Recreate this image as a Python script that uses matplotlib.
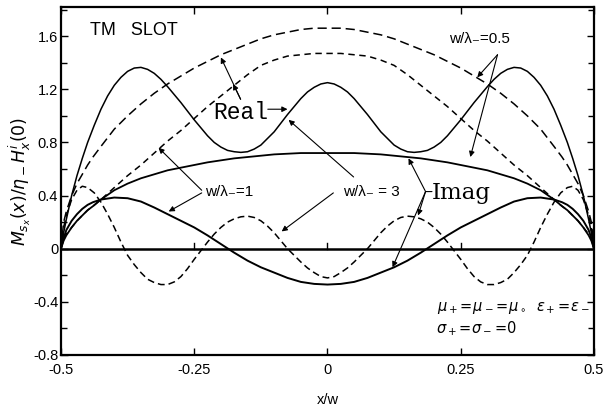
import matplotlib
matplotlib.use('Agg')
import matplotlib.pyplot as plt
from matplotlib.ticker import MultipleLocator

plt.rcParams['font.family'] = ['Liberation Sans', 'DejaVu Sans']
plt.rcParams['axes.unicode_minus'] = False

# sample points along the slot, x/w
x = [-0.5, -0.495, -0.49, -0.48, -0.47, -0.46, -0.45, -0.44, -0.425, -0.4,
     -0.375, -0.35, -0.325, -0.3, -0.275, -0.25, -0.225, -0.2, -0.175, -0.15,
     -0.125, -0.1, -0.075, -0.05, -0.025, 0, 0.025, 0.05, 0.075, 0.1,
     0.125, 0.15, 0.175, 0.2, 0.225, 0.25, 0.275, 0.3, 0.325, 0.35,
     0.375, 0.4, 0.425, 0.44, 0.45, 0.46, 0.47, 0.48, 0.49, 0.495, 0.5]

# finer sampling for the w/lambda = 3 curves
x3 = [-0.5, -0.495, -0.49, -0.48, -0.47, -0.46, -0.45,
      -0.4375, -0.425, -0.4125, -0.4, -0.3875, -0.375, -0.3625, -0.35, -0.3375, -0.325,
      -0.3125, -0.3, -0.2875, -0.275, -0.2625, -0.25, -0.2375, -0.225, -0.2125, -0.2,
      -0.1875, -0.175, -0.1625, -0.15, -0.1375, -0.125, -0.1125, -0.1, -0.0875, -0.075,
      -0.0625, -0.05, -0.0375, -0.025, -0.0125, 0,
      0.0125, 0.025, 0.0375, 0.05, 0.0625, 0.075, 0.0875, 0.1, 0.1125, 0.125,
      0.1375, 0.15, 0.1625, 0.175, 0.1875, 0.2, 0.2125, 0.225, 0.2375, 0.25,
      0.2625, 0.275, 0.2875, 0.3, 0.3125, 0.325, 0.3375, 0.35, 0.3625, 0.375,
      0.3875, 0.4, 0.4125, 0.425, 0.4375, 0.45, 0.46, 0.47, 0.48, 0.49, 0.495, 0.5]

# w/lambda = 0.5
real_05 = [0, 0.20, 0.28, 0.40, 0.49, 0.56, 0.63, 0.69, 0.77, 0.90,
           1.00, 1.09, 1.17, 1.24, 1.30, 1.36, 1.41, 1.46, 1.50, 1.54,
           1.58, 1.61, 1.63, 1.65, 1.66, 1.66, 1.66, 1.65, 1.63, 1.61,
           1.58, 1.54, 1.50, 1.46, 1.41, 1.36, 1.30, 1.24, 1.17, 1.09,
           1.00, 0.90, 0.77, 0.69, 0.63, 0.56, 0.49, 0.40, 0.28, 0.20, 0]
imag_05 = [0, 0.06, 0.10, 0.16, 0.21, 0.25, 0.29, 0.32, 0.37, 0.44,
           0.49, 0.53, 0.56, 0.59, 0.61, 0.63, 0.65, 0.665, 0.68, 0.69,
           0.70, 0.71, 0.715, 0.72, 0.72, 0.72, 0.72, 0.72, 0.715, 0.71,
           0.70, 0.69, 0.68, 0.665, 0.65, 0.63, 0.61, 0.59, 0.56, 0.53,
           0.49, 0.44, 0.37, 0.32, 0.29, 0.25, 0.21, 0.16, 0.10, 0.06, 0]

# w/lambda = 1
real_1 = [0, 0.08, 0.11, 0.16, 0.21, 0.25, 0.29, 0.32, 0.37, 0.46,
          0.55, 0.63, 0.72, 0.81, 0.89, 0.98, 1.07, 1.15, 1.23, 1.31,
          1.38, 1.42, 1.45, 1.46, 1.47, 1.47, 1.47, 1.46, 1.45, 1.42,
          1.38, 1.31, 1.23, 1.15, 1.07, 0.98, 0.89, 0.81, 0.72, 0.63,
          0.55, 0.46, 0.37, 0.32, 0.29, 0.25, 0.21, 0.16, 0.11, 0.08, 0]
imag_1 = [0, 0.08, 0.14, 0.21, 0.26, 0.30, 0.33, 0.35, 0.37, 0.385,
          0.38, 0.355, 0.31, 0.26, 0.21, 0.16, 0.10, 0.035, -0.03, -0.09,
          -0.14, -0.18, -0.22, -0.25, -0.265, -0.27, -0.265, -0.25, -0.22, -0.18,
          -0.14, -0.09, -0.03, 0.035, 0.10, 0.16, 0.21, 0.26, 0.31, 0.355,
          0.38, 0.385, 0.37, 0.35, 0.33, 0.30, 0.26, 0.21, 0.14, 0.08, 0]

# w/lambda = 3
real_3 = [0, 0.12, 0.22, 0.40, 0.55, 0.68, 0.80,
          0.93, 1.05, 1.15, 1.23, 1.29, 1.335, 1.36, 1.365, 1.35, 1.32,
          1.275, 1.22, 1.16, 1.10, 1.035, 0.97, 0.91, 0.85, 0.80, 0.765,
          0.74, 0.73, 0.725, 0.73, 0.75, 0.78, 0.83, 0.88, 0.945, 1.01,
          1.07, 1.13, 1.18, 1.215, 1.24, 1.25,
          1.24, 1.215, 1.18, 1.13, 1.07, 1.01, 0.945, 0.88, 0.83, 0.78,
          0.75, 0.73, 0.725, 0.73, 0.74, 0.765, 0.80, 0.85, 0.91, 0.97,
          1.035, 1.10, 1.16, 1.22, 1.275, 1.32, 1.35, 1.365, 1.36, 1.335,
          1.29, 1.23, 1.15, 1.05, 0.93, 0.80, 0.68, 0.55, 0.40, 0.22, 0.12, 0]
imag_3 = [0, 0.16, 0.25, 0.37, 0.44, 0.47, 0.46,
          0.42, 0.35, 0.26, 0.16, 0.05, -0.05, -0.12, -0.18, -0.23, -0.255,
          -0.27, -0.27, -0.25, -0.21, -0.15, -0.08, -0.015, 0.05, 0.11, 0.16,
          0.20, 0.225, 0.24, 0.245, 0.235, 0.21, 0.17, 0.12, 0.06, 0.0,
          -0.05, -0.10, -0.145, -0.18, -0.21, -0.22,
          -0.21, -0.18, -0.145, -0.10, -0.05, 0.0, 0.06, 0.12, 0.17, 0.21,
          0.235, 0.245, 0.24, 0.225, 0.20, 0.16, 0.11, 0.05, -0.015, -0.08,
          -0.15, -0.21, -0.25, -0.27, -0.27, -0.255, -0.23, -0.18, -0.12, -0.05,
          0.05, 0.16, 0.26, 0.35, 0.42, 0.46, 0.47, 0.44, 0.37, 0.25, 0.16, 0]

xticks = [-0.5, -0.25, 0, 0.25, 0.5]
xtick_labels = ['-0.5', '-0.25', '0', '0.25', '0.5']
yticks = [-0.8, -0.4, 0, 0.4, 0.8, 1.2, 1.6]
ytick_labels = ['-0.8', '-0.4', '0', '0.4', '0.8', '1.2', '1.6']

fig = plt.figure(figsize=(6.05, 4.08), dpi=100)
ax = fig.add_axes([0.1008, 0.130, 0.881, 0.853])

lw = 1.1
ax.plot(x, real_05, color='black', lw=lw, dashes=(6, 3.2))
ax.plot(x, real_1, color='black', lw=lw, dashes=(4.2, 3))
ax.plot(x3, real_3, color='black', lw=lw)
ax.plot(x, imag_05, color='black', lw=1.3)
ax.plot(x, imag_1, color='black', lw=1.4)
ax.plot(x3, imag_3, color='black', lw=lw, dashes=(4.5, 2.6))

# zero line with its own small ticks
ax.axhline(0, color='black', lw=1.8)
for xt in xticks[1:-1]:
    ax.plot([xt, xt], [0, 0.045], color='black', lw=1.0)

ax.set_xlim(-0.5, 0.5)
ax.set_ylim(-0.8, 1.82)
ax.set_xticks(xticks)
ax.set_xticklabels(xtick_labels)
ax.set_yticks(yticks)
ax.set_yticklabels(ytick_labels)
ax.yaxis.set_minor_locator(MultipleLocator(0.2))
ax.tick_params(which='both', direction='in', top=True, right=True,
               labelsize=10.5, width=1.0)
ax.tick_params(which='major', length=5)
ax.tick_params(which='minor', length=4.5)
ax.tick_params(axis='y', pad=2)
ax.tick_params(axis='x', pad=6)
for s in ax.spines.values():
    s.set_linewidth(1.6)

ax.set_xlabel('x/w', fontsize=10.5, labelpad=11)
ax.set_ylabel(r'$M_{s_x}(x)/\eta_- H_x^i(0)$', fontsize=12.5, labelpad=0)

ax.text(-0.445, 1.64, 'TM   SLOT', fontsize=13, va='center', ha='left')

arrow = dict(arrowstyle='-|>', color='black', lw=0.8, mutation_scale=8,
             shrinkA=0, shrinkB=0)
line = dict(arrowstyle='-', color='black', lw=0.8, shrinkA=0, shrinkB=0)

# w/lambda = 0.5 pointers
ax.text(0.285, 1.58, 'w/λ₋=0.5', fontsize=11, ha='center', va='center')
ax.annotate('', xy=(0.281, 1.29), xytext=(0.319, 1.46), arrowprops=arrow)
ax.annotate('', xy=(0.268, 0.69), xytext=(0.319, 1.46), arrowprops=arrow)

# w/lambda = 1 pointers
ax.text(-0.184, 0.43, 'w/λ₋=1', fontsize=11, ha='center', va='center')
ax.annotate('', xy=(-0.317, 0.76), xytext=(-0.236, 0.44), arrowprops=arrow)
ax.annotate('', xy=(-0.298, 0.28), xytext=(-0.236, 0.42), arrowprops=arrow)

# w/lambda = 3 pointers
ax.text(0.083, 0.43, 'w/λ₋ = 3', fontsize=11, ha='center', va='center')
ax.annotate('', xy=(-0.073, 0.97), xytext=(0.049, 0.54), arrowprops=arrow)
ax.annotate('', xy=(-0.086, 0.13), xytext=(0.011, 0.42), arrowprops=arrow)

# Real
ax.text(-0.163, 1.025, 'Real', fontsize=16.5, family='Liberation Mono',
        ha='center', va='center')
ax.annotate('', xy=(-0.075, 1.05), xytext=(-0.112, 1.05), arrowprops=arrow)
ax.annotate('', xy=(-0.2, 1.44), xytext=(-0.163, 1.125), arrowprops=arrow)
ax.annotate('', xy=(-0.177, 1.24), xytext=(-0.163, 1.125), arrowprops=arrow)

# Imag
ax.text(0.196, 0.42, 'Imag', fontsize=16.5, family='DejaVu Serif',
        ha='left', va='center')
ax.annotate('', xy=(0.196, 0.43), xytext=(0.184, 0.43), arrowprops=line)
ax.annotate('', xy=(0.152, 0.68), xytext=(0.184, 0.43), arrowprops=arrow)
ax.annotate('', xy=(0.17, 0.25), xytext=(0.184, 0.43), arrowprops=arrow)
ax.annotate('', xy=(0.122, -0.14), xytext=(0.184, 0.43), arrowprops=arrow)

# material parameters
ax.text(0.206, -0.45, r'$\mu_+\!=\!\mu_-\!=\!\mu_\circ$', fontsize=10.5,
        ha='left', va='center')
ax.text(0.392, -0.45, r'$\epsilon_+\!=\!\epsilon_-$', fontsize=10.5,
        ha='left', va='center')
ax.text(0.204, -0.60, r'$\sigma_+\!=\!\sigma_-\!=\!0$', fontsize=10.5,
        ha='left', va='center')

fig.savefig('out.png', dpi=100)
